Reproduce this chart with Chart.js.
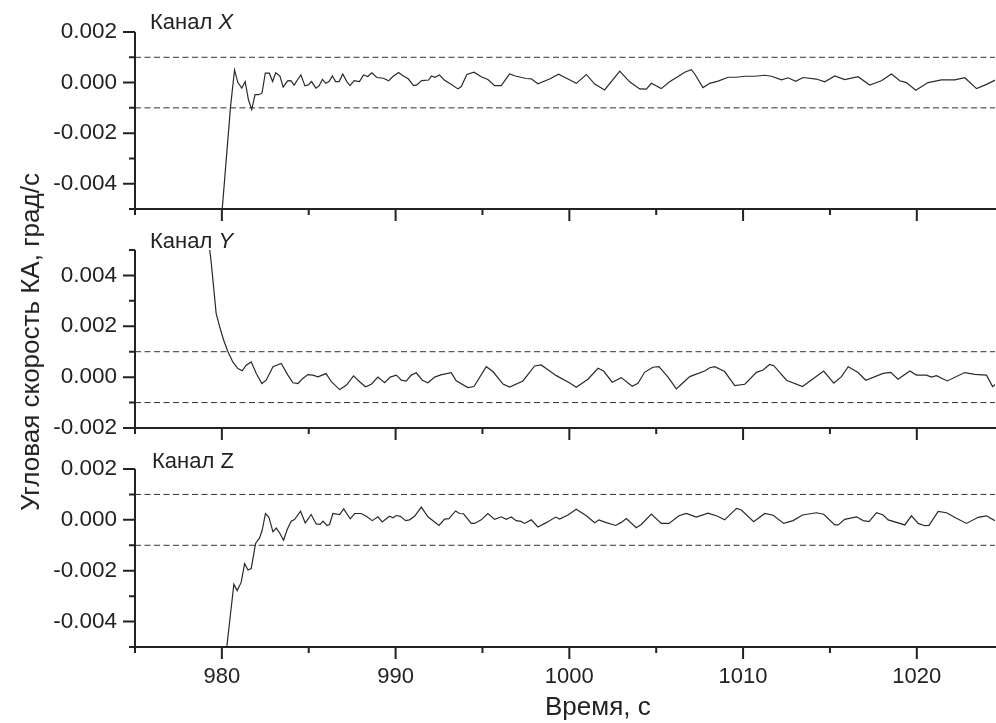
<!DOCTYPE html>
<html>
<head>
<meta charset="utf-8">
<script src="https://cdn.jsdelivr.net/npm/chart.js@4.4.1/dist/chart.umd.min.js"></script>
<style>
body { margin: 0; background: #fff; }
#wrap { position: relative; width: 996px; height: 723px; overflow: hidden; font-family: "Liberation Sans", Arial, sans-serif; color: #222; }
#wrap canvas { position: absolute; left: 0; top: 0; }
.lbl { position: absolute; line-height: 1; white-space: nowrap; }
</style>
</head>
<body>
<div id="wrap">
  <canvas id="c1" width="996" height="723"></canvas>
  <canvas id="c2" width="996" height="723"></canvas>
  <canvas id="c3" width="996" height="723"></canvas>
  <div class="lbl" style="left:150px;top:11px;font-size:22px">Канал <i>X</i></div>
  <div class="lbl" style="left:150px;top:230px;font-size:22px">Канал <i>Y</i></div>
  <div class="lbl" style="left:152px;top:450px;font-size:22px">Канал Z</div>
  <div class="lbl" style="left:545px;top:693px;font-size:26px">Время, с</div>
  <div class="lbl" style="left:30px;top:342px;font-size:26px;transform:translate(-50%,-50%) rotate(-90deg)">Угловая скорость КА, град/с</div>
</div>
<script>
// x axis
const xRange = [975, 1024.5];
const xMajor = [980, 990, 1000, 1010, 1020];
const xMinor = [975, 985, 995, 1005, 1015];
const limits = [0.001, -0.001]; // dashed lines

// y ticks (X and Z channels share the same scale)
const yMajorXZ = [-0.004, -0.002, 0, 0.002];
const yMinorXZ = [-0.005, -0.003, -0.001, 0.001];
const yMajorY = [-0.002, 0, 0.002, 0.004];
const yMinorY = [-0.001, 0.001, 0.003, 0.005];

// Канал X
const tX = [979.95, 980.5, 980.73, 980.92, 981.15, 981.34, 981.53, 981.72, 981.91, 982.12, 982.31, 982.5, 982.73, 982.92, 983.1, 983.34, 983.53, 983.78, 983.97, 984.16, 984.41, 984.55, 984.78, 984.97, 985.16, 985.41, 985.6, 985.79, 985.98, 986.17, 986.36, 986.55, 986.75, 986.96, 987.19, 987.38, 987.61, 987.92, 988.15, 988.4, 988.63, 988.92, 989.3, 989.6, 989.84, 990.17, 990.36, 990.74, 991.03, 991.22, 991.5, 991.9, 992.07, 992.26, 992.53, 992.8, 993.1, 993.59, 993.78, 994.1, 994.51, 994.93, 995.31, 995.7, 996.08, 996.56, 996.94, 997.52, 997.81, 998.19, 998.86, 999.38, 999.92, 1000.4, 1000.98, 1001.46, 1002.03, 1002.9, 1003.47, 1004.05, 1004.43, 1004.72, 1005.29, 1005.77, 1006.35, 1006.64, 1007.02, 1007.21, 1007.69, 1008.08, 1008.56, 1009.14, 1009.62, 1010.1, 1010.67, 1011.25, 1011.63, 1012.21, 1012.59, 1013.03, 1013.45, 1014.22, 1014.7, 1015.28, 1015.85, 1016.62, 1017.29, 1017.96, 1018.54, 1019.02, 1019.4, 1019.94, 1020.65, 1021.42, 1022.19, 1022.76, 1023.44, 1024.01, 1024.55];
const vX = [-0.0056, -0.00094, 0.0005, 0.0, -0.00022, 0.00004, -0.00068, -0.00107, -0.00048, -0.00048, -0.00042, 0.00037, 0.00037, 0.00004, 0.00039, 0.00026, -0.00018, 0.00007, 0.00008, -0.0001, 0.00017, 0.0003, -0.00013, -0.00009, 0.00004, -0.00022, -0.00013, 0.00013, -0.00003, 0.00004, 0.00026, 0.00004, 0.00004, 0.00034, 0.00004, -0.00012, 0.00008, 0.00004, 0.0003, 0.00024, 0.00039, 0.0002, 0.00017, 0.00007, 0.00024, 0.0004, 0.0003, 0.00014, -0.00012, -0.00009, 0.00008, 0.0001, 0.00026, 0.00021, 0.0003, 0.0001, -0.00003, -0.00025, -0.00016, 0.00032, 0.00041, 0.00023, 0.00012, -0.00012, -0.00012, 0.00034, 0.00025, 0.00016, 0.00015, -0.00005, 0.00014, 0.00033, 0.00014, -0.00003, 0.00032, -0.00006, -0.00029, 0.00045, 0.00003, -0.00025, -0.00026, -0.00003, -0.00024, 0.00003, 0.00028, 0.00041, 0.00051, 0.00035, -0.0002, -0.00003, 0.00006, 0.00021, 0.00021, 0.00025, 0.00025, 0.00029, 0.00025, 0.00011, 0.00019, 0.00005, 0.0002, 0.00014, 0.00003, 0.00026, 0.00012, 0.00023, -0.0001, 0.00007, 0.00034, 0.00007, 0.0, -0.0003, 0.0, 0.00011, 0.00011, 0.00019, -0.00024, -0.00007, 0.00011];

// Канал Y
const tY = [979.25, 979.39, 979.54, 979.67, 979.87, 980.1, 980.35, 980.63, 980.92, 981.17, 981.4, 981.69, 981.98, 982.3, 982.55, 982.94, 983.42, 983.8, 984.09, 984.38, 984.66, 984.95, 985.24, 985.53, 986.0, 986.3, 986.78, 987.16, 987.58, 987.93, 988.27, 988.6, 988.98, 989.37, 989.69, 990.04, 990.33, 990.61, 990.9, 991.19, 991.54, 991.86, 992.25, 992.6, 993.2, 993.49, 994.16, 994.51, 995.22, 995.6, 996.18, 996.56, 997.33, 998.0, 998.38, 999.25, 1000.0, 1000.4, 1001.07, 1001.65, 1001.97, 1002.47, 1002.99, 1003.62, 1003.95, 1004.33, 1004.81, 1005.16, 1005.68, 1006.16, 1006.45, 1006.93, 1007.79, 1008.08, 1008.37, 1008.94, 1009.52, 1010.1, 1010.77, 1011.15, 1011.53, 1011.77, 1012.5, 1013.42, 1014.64, 1015.22, 1015.66, 1016.05, 1016.62, 1017.06, 1018.06, 1018.5, 1018.92, 1019.6, 1019.98, 1020.56, 1020.84, 1021.13, 1021.75, 1022.76, 1023.34, 1024.01, 1024.36, 1024.55];
const vY = [0.0053, 0.00449, 0.00343, 0.00251, 0.00199, 0.00146, 0.001, 0.0006, 0.00034, 0.00025, 0.00047, 0.0006, 0.00014, -0.00025, -0.00012, 0.00041, 0.00054, 0.00008, -0.00022, -0.00025, -0.00005, 0.0001, 0.00008, 0.00001, 0.00014, -0.00018, -0.00049, -0.00032, 0.00005, -0.00018, -0.00038, -0.00028, 0.0, -0.00022, 0.0, 0.00008, -0.00012, -0.00016, 0.00008, 0.00017, -0.00012, -0.00022, 0.0, 0.00009, 0.00018, -0.00014, -0.00041, -0.00037, 0.00041, 0.00022, -0.00027, -0.00039, -0.00015, 0.00044, 0.00048, 0.00006, -0.00022, -0.0004, -0.00008, 0.00035, 0.00024, -0.0002, -0.00002, -0.00036, -0.00024, 0.00019, 0.00039, 0.00041, 0.0, -0.00046, -0.00028, 0.00002, 0.00024, 0.00037, 0.00041, 0.00022, -0.00033, -0.00028, 0.00019, 0.00028, 0.0005, 0.00045, -0.00012, -0.00037, 0.00024, -0.00024, 0.00002, 0.00041, 0.00018, -0.00012, 0.00015, 0.00019, -0.00008, 0.00024, 0.00008, 0.00008, 0.0, 0.00006, -0.00015, 0.00018, 0.00011, 0.00008, -0.00037, -0.00027];

// Канал Z
const tZ = [980.2, 980.69, 980.88, 981.11, 981.31, 981.5, 981.69, 981.94, 982.17, 982.32, 982.51, 982.71, 982.94, 983.13, 983.32, 983.55, 983.76, 983.99, 984.18, 984.53, 984.8, 985.14, 985.43, 985.66, 985.82, 986.05, 986.2, 986.39, 986.78, 987.01, 987.39, 987.64, 988.02, 988.31, 988.66, 988.98, 989.23, 989.65, 989.85, 990.04, 990.27, 990.58, 990.8, 991.09, 991.48, 991.86, 992.5, 992.82, 993.07, 993.45, 993.68, 993.91, 994.35, 994.54, 994.93, 995.31, 995.7, 996.08, 996.37, 996.66, 996.94, 997.22, 997.42, 997.81, 998.19, 998.67, 999.21, 999.44, 999.92, 1000.4, 1000.98, 1001.46, 1001.7, 1002.13, 1002.66, 1002.99, 1003.28, 1003.85, 1004.14, 1004.72, 1005.29, 1005.74, 1006.31, 1006.73, 1007.31, 1007.98, 1008.5, 1008.94, 1009.62, 1009.9, 1010.61, 1011.25, 1011.73, 1012.34, 1012.88, 1013.42, 1014.22, 1014.64, 1015.28, 1015.48, 1015.85, 1016.53, 1016.91, 1017.25, 1017.68, 1018.06, 1018.35, 1019.31, 1019.69, 1020.08, 1020.46, 1020.7, 1021.23, 1021.71, 1022.28, 1022.86, 1023.53, 1024.01, 1024.49];
const vZ = [-0.0055, -0.00253, -0.00278, -0.00246, -0.00172, -0.00197, -0.00192, -0.00093, -0.00071, -0.00041, 0.00025, 0.0001, -0.00047, -0.00032, -0.00051, -0.0008, -0.00038, -0.00005, 0.00001, 0.00034, -0.00012, 0.00021, -0.00016, -0.00018, -0.00005, -0.00022, -0.00018, 0.00025, 0.00021, 0.00043, 0.00004, 0.00025, 0.00025, 0.00014, -0.00003, 0.00012, -0.00008, 0.00014, 0.00008, 0.00017, 0.00014, -0.00003, 0.0, 0.00014, 0.0005, 0.00012, -0.00022, 0.00003, 0.00005, 0.00035, 0.00025, 0.00024, -0.00014, -0.00014, 0.0, 0.00025, 0.00002, 0.00012, 0.00002, 0.00011, -0.00003, -0.00006, -0.00014, 0.0, -0.00028, -0.00011, 0.00011, 0.00003, 0.00019, 0.00042, 0.00016, -0.00011, 0.0, -0.00011, -0.00022, -0.0001, 0.00005, -0.00031, -0.00018, 0.00023, -0.00014, -0.00014, 0.00016, 0.00025, 0.00011, 0.00026, 0.00015, 0.0, 0.00045, 0.00039, -0.00007, 0.00025, 0.00018, -0.00014, -0.00003, 0.00019, 0.00028, 0.00022, -0.0002, -0.0002, 0.00002, 0.00012, -0.00003, -0.00007, 0.00028, 0.00019, 0.0, -0.0002, 0.00016, -0.00014, -0.00023, -0.00022, 0.00033, 0.00028, 0.00006, -0.00014, 0.0001, 0.00016, -0.00003];

Chart.defaults.font.family = '"Liberation Sans", Arial, sans-serif';
Chart.defaults.color = '#222';

const ink = '#222';

// axis lines and tick marks, placed through the chart's own scales
const axesPlugin = {
  id: 'axes',
  afterDatasetsDraw(chart, args, opts) {
    const { ctx, chartArea: a, scales: { x, y } } = chart;
    ctx.save();
    ctx.strokeStyle = ink;
    ctx.lineWidth = 2;
    ctx.beginPath();
    ctx.moveTo(a.left, a.top);
    ctx.lineTo(a.left, a.bottom);
    ctx.lineTo(chart.width, a.bottom);
    xMajor.forEach(v => { const p = x.getPixelForValue(v); ctx.moveTo(p, a.bottom); ctx.lineTo(p, a.bottom + 12); });
    xMinor.forEach(v => { const p = x.getPixelForValue(v); ctx.moveTo(p, a.bottom); ctx.lineTo(p, a.bottom + 6); });
    opts.major.forEach(v => { const p = y.getPixelForValue(v); ctx.moveTo(a.left, p); ctx.lineTo(a.left - 12, p); });
    opts.minor.forEach(v => { const p = y.getPixelForValue(v); ctx.moveTo(a.left, p); ctx.lineTo(a.left - 6, p); });
    ctx.stroke();
    ctx.restore();
  }
};

const panels = [
  { id: 'c1', top: 32, bottom: 209, t: tX, v: vX, min: -0.005, max: 0.002, major: yMajorXZ, minor: yMinorXZ, xLabels: false },
  { id: 'c2', top: 250, bottom: 428, t: tY, v: vY, min: -0.002, max: 0.005, major: yMajorY, minor: yMinorY, xLabels: false },
  { id: 'c3', top: 469, bottom: 647, t: tZ, v: vZ, min: -0.005, max: 0.002, major: yMajorXZ, minor: yMinorXZ, xLabels: true }
];

panels.forEach(p => {
  const ctx = document.getElementById(p.id).getContext('2d');
  const limitSets = limits.map(l => ({
    data: xRange.map(x => ({ x: x, y: l })),
    borderColor: '#333',
    borderWidth: 1,
    borderDash: [6, 3.5],
    pointRadius: 0
  }));
  new Chart(ctx, {
    type: 'line',
    data: {
      datasets: [...limitSets, {
        data: p.t.map((t, i) => ({ x: t, y: p.v[i] })),
        borderColor: '#2a2a2a',
        borderWidth: 1.2,
        pointRadius: 0,
        tension: 0
      }]
    },
    options: {
      responsive: false,
      animation: false,
      devicePixelRatio: 1,
      events: [],
      layout: { padding: { top: p.top, right: 1, bottom: 0, left: 0 } },
      plugins: {
        legend: { display: false },
        tooltip: { enabled: false },
        axes: { major: p.major, minor: p.minor }
      },
      scales: {
        x: {
          type: 'linear',
          min: xRange[0],
          max: xRange[1],
          grid: { display: false },
          border: { display: false },
          afterBuildTicks: s => { s.ticks = xMajor.map(v => ({ value: v })); },
          afterFit: s => { s.height = 723 - p.bottom; },
          ticks: {
            display: p.xLabels,
            autoSkip: false,
            maxRotation: 0,
            padding: 9,
            font: { size: 22 },
            callback: v => String(v)
          }
        },
        y: {
          min: p.min,
          max: p.max,
          grid: { display: false },
          border: { display: false },
          afterBuildTicks: s => { s.ticks = p.major.map(v => ({ value: v })); },
          afterFit: s => { s.width = 135; },
          ticks: {
            padding: 10,
            font: { size: 22.5 },
            callback: v => Number(v).toFixed(3)
          }
        }
      }
    },
    plugins: [axesPlugin]
  });
});
</script>
</body>
</html>
